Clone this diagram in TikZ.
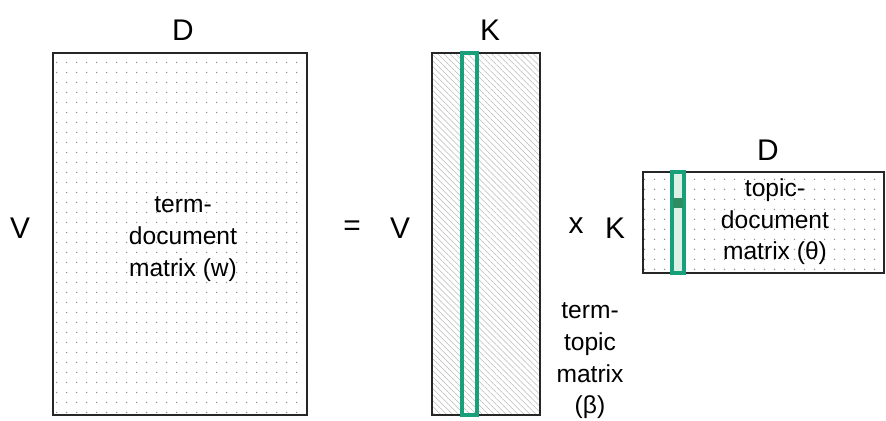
\documentclass[tikz,border=0pt]{standalone}
\usepackage{fontspec}
\setmainfont{Liberation Sans}
\usetikzlibrary{patterns.meta, positioning}
\definecolor{colgreen}{HTML}{17A07A}
\definecolor{cellgreen}{HTML}{2E8B62}
\definecolor{palegreen}{HTML}{DDF0E8}

\begin{document}
\begin{tikzpicture}[x=0.02cm, y=-0.02cm, line width=0.75pt,
      every node/.style={font=\fontsize{14}{18}\selectfont, align=center},
      dim/.style={font=\fontsize{17}{20}\selectfont},
      mat/.style={draw=black!85, inner sep=0pt, outer sep=0pt},
      dotfill/.style={pattern={Dots[distance=5.4pt, radius=0.45pt]},
        pattern color=black!45},
      hatchfill/.style={pattern={Lines[angle=-45, distance=2.4pt,
        line width=0.3pt]}, pattern color=black!28},
      col/.style={draw=colgreen, line width=1.9pt, inner sep=0pt,
        outer sep=0pt}]
    \useasboundingbox (0,0) rectangle (886,421);
    % term-document matrix
    \node[mat, dotfill, minimum width=5.08cm, minimum height=7.24cm]
      (W) at (180,234) {};
    \node (Wtxt) at (183,239) {term-\\document\\matrix (w)};
    \node[dim] (WD) at (183,30) {D};
    \node[dim] (WV) at (20,228) {V};
    \node[dim] (eq) at (352,228) {=};
    % term-topic matrix
    \node[dim] (BV) at (400,228) {V};
    \node[mat, hatchfill, minimum width=2.16cm, minimum height=7.24cm]
      (B) at (486,234) {};
    \node[col, minimum width=0.3cm, minimum height=7.24cm]
      (Bk) at (469.5,234) {};
    \node[dim] (BK) at (490,30) {K};
    \node (Btxt) at (590,361) {term-\\topic\\matrix\\(β)};
    \node[dim] (times) at (576,226) {x};
    % topic-document matrix
    \node[dim] (TK) at (615,228) {K};
    \node[mat, dotfill, minimum width=4.82cm, minimum height=2.02cm]
      (T) at (763.5,222.5) {};
    \node[col, fill=palegreen, minimum width=0.24cm, minimum height=2.02cm]
      (Tk) at (678,222.5) {};
    \node[fill=cellgreen, inner sep=0pt, minimum width=0.2cm,
      minimum height=0.2cm] (cell) at (678,203.5) {};
    \node[dim] (TD) at (768,150) {D};
    \node (Ttxt) at (775,222) {topic-\\document\\matrix (θ)};
  \end{tikzpicture}
\end{document}
